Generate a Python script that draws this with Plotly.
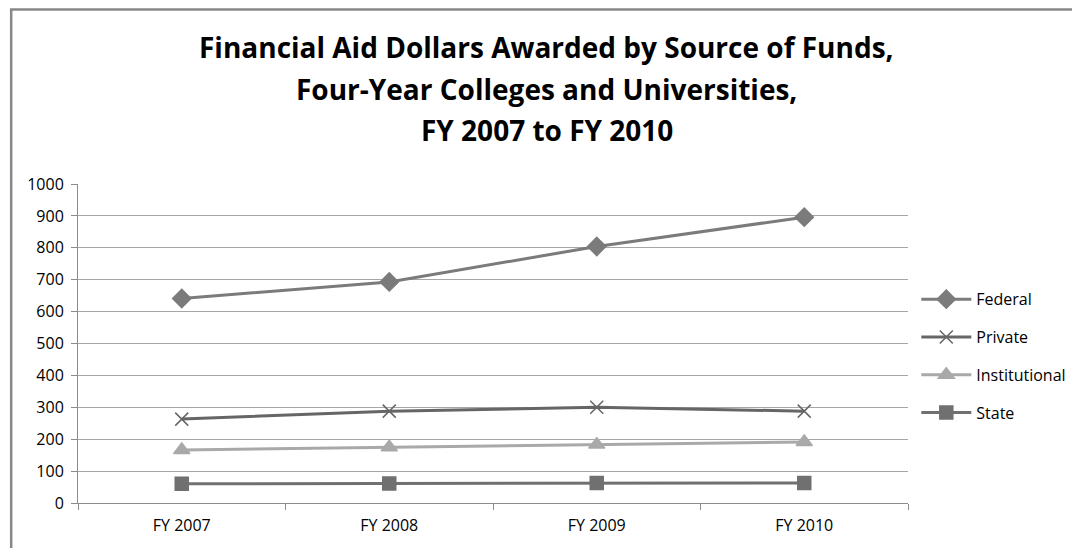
import plotly.graph_objects as go

# data
years = ["FY 2007", "FY 2008", "FY 2009", "FY 2010"]
federal = [641, 693, 804, 896]
private = [263, 288, 300, 288]
institutional = [166, 175, 183, 191]
state = [60, 61, 63, 63]

title_lines = [
    "Financial Aid Dollars Awarded by Source of Funds,",
    "Four-Year Colleges and Universities,",
    "FY 2007 to FY 2010",
]

series = [
    ("Federal", federal, "#7b7b7b", "diamond", 14),
    ("Private", private, "#666666", "x-thin-open", 13),
    ("Institutional", institutional, "#a9a9a9", "triangle-up", 14),
    ("State", state, "#707070", "square", 13),
]

fig = go.Figure()
for name, vals, color, symbol, size in series:
    fig.add_trace(go.Scatter(
        x=years, y=vals, name=name, mode="lines+markers",
        legendgroup=name,
        line=dict(color=color, width=3),
        marker=dict(symbol=symbol, size=size, color=color,
                    line=dict(color=color, width=1.5)),
    ))

fig.update_layout(
    width=1080, height=548,
    margin=dict(l=70, r=180, t=176, b=53),
    paper_bgcolor="white", plot_bgcolor="white",
    font=dict(family="Open Sans", size=16, color="#000000"),
    showlegend=True,
    legend=dict(x=1.01, y=0.46, xanchor="left", yanchor="middle",
                font=dict(size=16), tracegroupgap=14, itemwidth=50),
)

fig.update_xaxes(
    type="category", showgrid=False, showline=True, linecolor="#8c8c8c",
    linewidth=1, ticks="outside", tickson="boundaries", ticklen=6,
    tickcolor="#8c8c8c", range=[-0.5, 3.5], ticklabelstandoff=8,
    tickfont=dict(size=16),
)
fig.update_yaxes(
    range=[0, 1000], dtick=100, showgrid=True, gridcolor="#a6a6a6",
    gridwidth=1, showline=True, linecolor="#8c8c8c", linewidth=1,
    ticks="outside", ticklen=6, tickcolor="#8c8c8c", zeroline=False,
    ticklabelstandoff=4, tickfont=dict(size=16),
)

# three-line chart title, one annotation per line for the wider spacing
for line, ypos in zip(title_lines, [1.4295, 1.2978, 1.169]):
    fig.add_annotation(
        text=line, xref="paper", yref="paper", x=0.565, y=ypos,
        xanchor="center", yanchor="middle", showarrow=False,
        font=dict(family="Open Sans", size=28, color="#000000", weight="bold"),
    )

# chart frame (only left and top edges are visible in the original)
fig.add_shape(type="rect", xref="paper", yref="paper",
              x0=-0.0805, x1=1.3, y0=-0.5, y1=1.547,
              line=dict(color="#888888", width=2.5), layer="below")

fig.write_html("out.html")
